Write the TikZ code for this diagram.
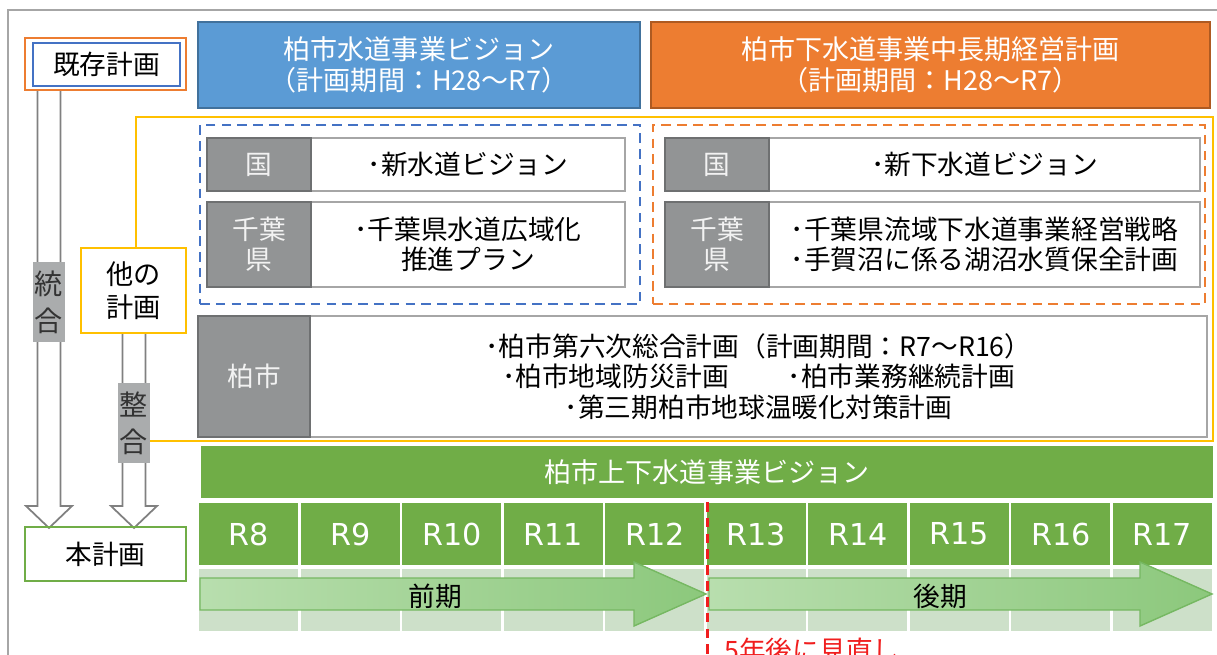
\documentclass[tikz,border=0pt]{standalone}
\usepackage{fontspec}
\setmainfont{Noto Sans CJK JP}
\newfontfamily\yearfont{DejaVu Sans}
\usetikzlibrary{fit,calc}
\definecolor{visionblue}{RGB}{91,155,213}
\definecolor{visionblueD}{RGB}{65,113,156}
\definecolor{groupblue}{RGB}{68,114,196}
\definecolor{planorange}{RGB}{237,125,49}
\definecolor{planorangeD}{RGB}{174,90,33}
\definecolor{otheryellow}{RGB}{255,192,0}
\definecolor{cellgray}{RGB}{146,148,149}
\definecolor{cellgrayD}{RGB}{110,112,113}
\definecolor{linegray}{RGB}{166,166,166}
\definecolor{arrowgray}{RGB}{128,128,128}
\definecolor{labelgray}{RGB}{170,172,173}
\definecolor{newgreen}{RGB}{112,173,71}
\definecolor{palegreen}{RGB}{205,224,201}
\definecolor{arrowL}{RGB}{184,222,174}
\definecolor{arrowR}{RGB}{140,200,124}
\definecolor{arrowD}{RGB}{118,184,98}
\definecolor{reviewred}{RGB}{240,30,30}
\newcommand{\vblock}[2]{\draw[hollowarrow] ($(#1)+(-11.5,0)$) -- ($(#2)+(-11.5,-22)$) -- ($(#2)+(-23,-22)$) -- (#2) -- ($(#2)+(23,-22)$) -- ($(#2)+(11.5,-22)$) -- ($(#1)+(11.5,0)$) -- cycle;}
\newcommand{\hblock}[2]{\draw[timearrow] ($(#1)+(0,-16)$) -- ($(#2)+(-72,-16)$) -- ($(#2)+(-72,-32)$) -- (#2) -- ($(#2)+(-72,32)$) -- ($(#2)+(-72,16)$) -- ($(#1)+(0,16)$) -- cycle;}

\begin{document}
\begin{tikzpicture}[x=0.02cm,y=-0.02cm,
	every node/.style={font=\fontsize{15.2}{17}\selectfont,align=center,inner sep=0pt},
	hollowarrow/.style={draw=arrowgray,fill=white,line width=1pt},
	tagbox/.style={fill=labelgray},
	tagtext/.style={text=black!80,font=\fontsize{16}{21}\selectfont},
	headbox/.style={line width=1pt},
	headtext/.style={text=white,font=\fontsize{15.4}{17.5}\selectfont},
	sidecell/.style={fill=cellgray,draw=cellgrayD,line width=1pt},
	sidetext/.style={text=white!95!black},
	itemcell/.style={fill=white,draw=linegray,line width=1.2pt},
	groupframe/.style={line width=1.2pt,dash pattern=on 5.5pt off 3.5pt},
	yearcell/.style={fill=newgreen,draw=white,line width=1.2pt},
	yeartext/.style={text=white,font=\yearfont\fontsize{17.2}{19}\selectfont},
	palecell/.style={fill=palegreen,draw=white,line width=1.2pt},
	timearrow/.style={draw=arrowD,line width=0.8pt,left color=arrowL,right color=arrowR}]
	\clip (0,0) rectangle (1217,655);
	\draw[linegray,line width=1pt] (1217,10) -- (8,10) -- (8,655);
	
	\node[draw=otheryellow,line width=1.3pt,fit={(136,117)(1213,441)}](others){};
	
	\coordinate (togoTop) at (49,90);
	\coordinate (togoTip) at (49,528);
	\coordinate (seigoTop) at (134,333);
	\coordinate (seigoTip) at (134,528);
	\vblock{togoTop}{togoTip}
	\vblock{seigoTop}{seigoTip}
	
	\node[draw=planorange,line width=1.3pt,fit={(25,38)(186,90)}](kizonO){};
	\node[draw=groupblue,line width=1.3pt,fit={(33,43)(180,86)}](kizon){};
	\node at (kizon.center)(kizonT){既存計画};
	\node[draw=otheryellow,fill=white,line width=1.3pt,fit={(81,248)(186,333)}](hoka){};
	\node[font=\fontsize{15.5}{18.5}\selectfont] at (hoka.center)(hokaT){他の\\計画};
	\node[draw=newgreen,line width=1.3pt,fit={(25,527)(186,581)}](hon){};
	\node at (hon.center)(honT){本計画};
	\node[tagbox,fit={(33,262)(65,342)}](togo){};
	\node[tagtext] at (togo.center)(togoT){統\\合};
	\node[tagbox,fit={(118,383)(150,463)}](seigo){};
	\node[tagtext] at (seigo.center)(seigoT){整\\合};
	
	\node[headbox,fill=visionblue,draw=visionblueD,fit={(198,22)(640,108)}](suido){};
	\node[headtext] at (suido.center)(suidoT){柏市水道事業ビジョン\\（計画期間：H28～R7）};
	\node[headbox,fill=planorange,draw=planorangeD,fit={(651,22)(1210,108)}](gesui){};
	\node[headtext] at (gesui.center)(gesuiT){柏市下水道事業中長期経営計画\\（計画期間：H28～R7）};
	
	\node[groupframe,draw=groupblue,fit={(200,125)(640,304)}](suidoset){};
	\node[groupframe,draw=planorange,fit={(653,125)(1205,304)}](gesuiset){};
	
	\node[itemcell,fit={(311,138)(625,191)}](kuniW){};
	\node at (kuniW.center)(kuniWT){･新水道ビジョン};
	\node[sidecell,fit={(207,138)(311,191)}](kuniWside){};
	\node[sidetext] at (kuniWside.center)(kuniWsideT){国};
	\node[itemcell,fit={(311,202)(625,287)}](chibaW){};
	\node at (chibaW.center)(chibaWT){･千葉県水道広域化\\推進プラン};
	\node[sidecell,fit={(207,202)(311,287)}](chibaWside){};
	\node[sidetext] at (chibaWside.center)(chibaWsideT){千葉\\県};
	
	\node[itemcell,fit={(769,138)(1200,191)}](kuniS){};
	\node at (kuniS.center)(kuniST){･新下水道ビジョン};
	\node[sidecell,fit={(665,138)(769,191)}](kuniSside){};
	\node[sidetext] at (kuniSside.center)(kuniSsideT){国};
	\node[itemcell,fit={(769,202)(1200,287)}](chibaS){};
	\node at (chibaS.center)(chibaST){･千葉県流域下水道事業経営戦略\\･手賀沼に係る湖沼水質保全計画};
	\node[sidecell,fit={(665,202)(769,287)}](chibaSside){};
	\node[sidetext] at (chibaSside.center)(chibaSsideT){千葉\\県};
	
	\node[itemcell,fit={(310,316)(1207,437)}](kashiwa){};
	\node[font=\fontsize{15.2}{17.5}\selectfont] at (kashiwa.center)(kashiwaT){･柏市第六次総合計画（計画期間：R7～R16）\\･柏市地域防災計画\hspace{2.2em}･柏市業務継続計画\\･第三期柏市地球温暖化対策計画};
	\node[sidecell,fit={(198,316)(310,437)}](kashiwaside){};
	\node[sidetext] at (kashiwaside.center)(kashiwasideT){柏市};
	
	\node[fill=newgreen,fit={(201,446)(1213,498)}](jointvision){};
	\node[text=white,font=\fontsize{15.4}{17}\selectfont] at (jointvision.center)(jointvisionT){柏市上下水道事業ビジョン};
	\foreach \y [count=\i from 0] in {8,...,17}{
		\node[palecell,fit={(198+101.5*\i,568)(299.5+101.5*\i,632)}](p\y){};
		\node[yearcell,fit={(198+101.5*\i,502)(299.5+101.5*\i,566)}](r\y){};
		\node[yeartext] at (r\y.center)(r\y T){R\y};
	}
	
	\coordinate (zenkiTail) at (200,594);
	\coordinate (zenkiTip) at (706,594);
	\coordinate (kokiTail) at (709,594);
	\coordinate (kokiTip) at (1212,594);
	\hblock{zenkiTail}{zenkiTip}
	\hblock{kokiTail}{kokiTip}
	\node at (435,596)(zenki){前期};
	\node at (940,596)(koki){後期};
	
	\coordinate (reviewTop) at (707,502);
	\coordinate (reviewEnd) at (707,660);
	\draw[reviewred,line width=1.7pt,dash pattern=on 5.5pt off 3.5pt] (reviewTop) -- (reviewEnd);
	\node[anchor=west,text=reviewred] at (724,650)(review){5年後に見直し};
\end{tikzpicture}
\end{document}
